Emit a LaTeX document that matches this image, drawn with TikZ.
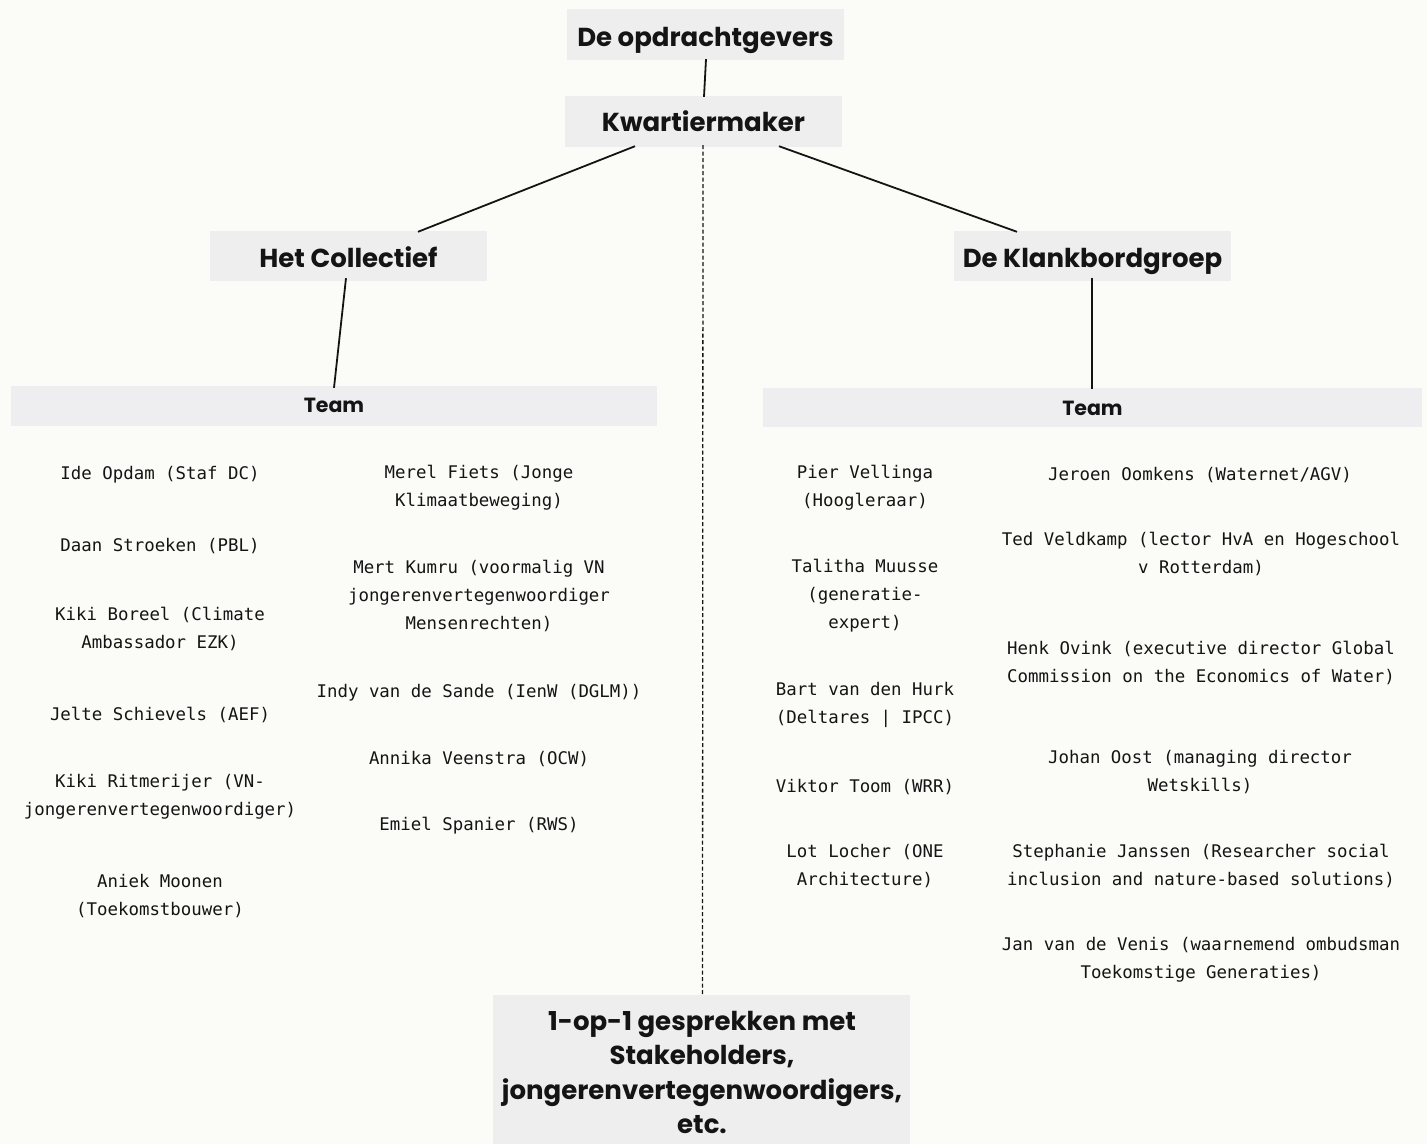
\documentclass[tikz,border=0pt]{standalone}
\usepackage{fontspec}
\newfontfamily\headfont{Poppins}
\newfontfamily\monofont{DejaVu Sans Mono}
\definecolor{bg}{HTML}{FBFBF8}
\definecolor{boxfill}{HTML}{EEEEEE}
\definecolor{teamfill}{HTML}{EEEEF0}
\definecolor{ink}{HTML}{141414}
\begin{document}
\begin{tikzpicture}[x=1pt,y=-1pt,
  hbox/.style={fill=boxfill, inner sep=0pt},
  teambox/.style={fill=teamfill, inner sep=0pt},
  htext/.style={anchor=base, inner sep=0pt, text=ink, font={\headfont\bfseries\fontsize{26}{34}\selectfont}},
  ttext/.style={anchor=base, inner sep=0pt, text=ink, font={\headfont\bfseries\fontsize{20.5}{24}\selectfont}},
  person/.style={align=center, text=ink, inner sep=0pt, yshift=-3pt, font={\monofont\fontsize{17.4}{28}\selectfont}},
  conn/.style={draw=ink, line width=1.8pt},
  dconn/.style={draw=ink, line width=1.3pt, dash pattern=on 4pt off 2.5pt}]
\fill[bg] (0,0) rectangle (1427,1144);
\useasboundingbox (0,0) rectangle (1427,1144);

% heading boxes
\node[hbox, minimum width=277pt, minimum height=51pt] (op) at (705.5,34.5) {};
\node[htext] (opt) at (705.5,46.5) {De opdrachtgevers};
\node[hbox, minimum width=277pt, minimum height=51pt] (kw) at (703.5,121.5) {};
\node[htext] (kwt) at (703.5,131) {Kwartiermaker};
\node[hbox, minimum width=277pt, minimum height=50pt] (hc) at (348.5,256) {};
\node[htext] (hct) at (348.5,267) {Het Collectief};
\node[hbox, minimum width=277pt, minimum height=50pt] (kb) at (1092.5,256) {};
\node[htext] (kbt) at (1092.5,267) {De Klankbordgroep};

% team boxes
\node[teambox, minimum width=646pt, minimum height=40pt] (tl) at (334,406) {};
\node[ttext] (tlt) at (334,412) {Team};
\node[teambox, minimum width=659pt, minimum height=39pt] (tr) at (1092.5,407.5) {};
\node[ttext] (trt) at (1092.5,415) {Team};

% bottom box
\node[hbox, minimum width=417pt, minimum height=149pt] (bt) at (701.5,1069.5) {};
\node[align=center, inner sep=0pt, text=ink, font={\headfont\bfseries\fontsize{26}{34.2}\selectfont}] (btt) at (702,1072.5) {1-op-1 gesprekken met\\Stakeholders,\\jongerenvertegenwoordigers,\\etc.};

% connectors
\draw[conn] ([xshift=0.5pt,yshift=1pt]op.south) -- ([xshift=0.5pt,yshift=-1pt]kw.north);
\draw[conn] ([xshift=-68.5pt,yshift=1pt]kw.south) -- ([xshift=69.5pt,yshift=-1pt]hc.north);
\draw[conn] ([xshift=75.5pt,yshift=1pt]kw.south) -- ([xshift=-75.5pt,yshift=-1pt]kb.north);
\draw[conn] ([xshift=-2.5pt,yshift=3pt]hc.south) -- ([yshift=-2pt]tl.north);
\draw[conn] ([xshift=-0.5pt,yshift=3pt]kb.south) -- ([xshift=-0.5pt,yshift=-1pt]tr.north);
\draw[dconn] ([xshift=-0.5pt,yshift=2pt]kw.south) -- ([xshift=1pt,yshift=-1pt]bt.north);

% left team, column 1
\node[person] (p1) at (160,472) {Ide Opdam (Staf DC)};
\node[person] (p2) at (160,543) {Daan Stroeken (PBL)};
\node[person] (p3) at (160,626) {Kiki Boreel (Climate\\Ambassador EZK)};
\node[person] (p4) at (160,712) {Jelte Schievels (AEF)};
\node[person] (p5) at (160,794) {Kiki Ritmerijer (VN-\\jongerenvertegenwoordiger)};
\node[person] (p6) at (160,893) {Aniek Moonen\\(Toekomstbouwer)};

% left team, column 2
\node[person] (q1) at (479,485) {Merel Fiets (Jonge\\Klimaatbeweging)};
\node[person] (q2) at (479,593) {Mert Kumru (voormalig VN\\jongerenvertegenwoordiger\\Mensenrechten) };
\node[person] (q3) at (479,690) {Indy van de Sande (IenW (DGLM))};
\node[person] (q4) at (479,756) {Annika Veenstra (OCW)};
\node[person] (q5) at (479,823) {Emiel Spanier (RWS)};

% right team, column 1
\node[person] (r1) at (865,485) {Pier Vellinga\\(Hoogleraar)};
\node[person] (r2) at (865,593) {Talitha Muusse\\(generatie-\\expert)};
\node[person] (r3) at (865,702) {Bart van den Hurk\\(Deltares | IPCC)};
\node[person] (r4) at (865,784) {Viktor Toom (WRR)};
\node[person] (r5) at (865,863) {Lot Locher (ONE\\Architecture)};

% right team, column 2
\node[person] (s1) at (1200,472) {Jeroen Oomkens (Waternet/AGV)};
\node[person] (s2) at (1201,551) {Ted Veldkamp (lector HvA en Hogeschool\\v Rotterdam)};
\node[person] (s3) at (1201,660) {Henk Ovink (executive director Global\\Commission on the Economics of Water)};
\node[person] (s4) at (1200,769) {Johan Oost (managing director\\Wetskills)};
\node[person] (s5) at (1201,863) {Stephanie Janssen (Researcher social\\inclusion and nature-based solutions)};
\node[person] (s6) at (1201,957) {Jan van de Venis (waarnemend ombudsman\\Toekomstige Generaties)};
\end{tikzpicture}
\end{document}
